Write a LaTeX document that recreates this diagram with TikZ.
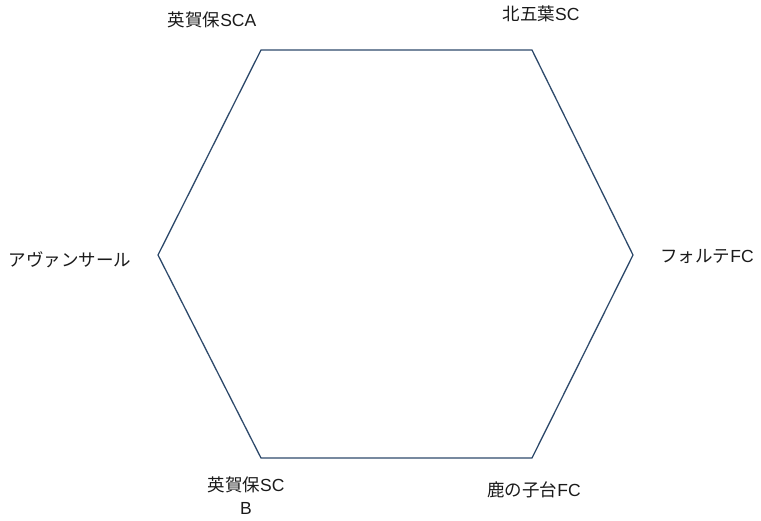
\documentclass[tikz,border=0pt]{standalone}
\usepackage{fontspec}
\setmainfont{Liberation Sans}
\newfontfamily\jp{Noto Sans CJK JP}
\definecolor{edge}{HTML}{2E4A6B}
\definecolor{txt}{HTML}{1A1A1A}
\begin{document}
\begin{tikzpicture}[x=1pt,y=-1pt,
  lbl/.style={text=txt,font=\fontsize{17.5}{23}\selectfont,inner sep=0pt,align=center},
  hex/.style={draw=edge,line width=1.3pt,line join=miter}]
\useasboundingbox (0,0) rectangle (761,520);
\coordinate (v1) at (261,50);
\coordinate (v2) at (532,50);
\coordinate (v3) at (633,255);
\coordinate (v4) at (532,458);
\coordinate (v5) at (261,458);
\coordinate (v6) at (158,255);
\draw[hex] (v1) -- (v2) -- (v3) -- (v4) -- (v5) -- (v6) -- cycle;
\node[lbl] (a) at (212,20) {{\jp 英賀保}SCA};
\node[lbl] (b) at (541,14) {{\jp 北五葉}SC};
\node[lbl] (c) at (707,256) {{\jp フォルテ}FC};
\node[lbl] (d) at (534,490) {{\jp 鹿の子台}FC};
\node[lbl] (e) at (246,496) {{\jp 英賀保}SC\\B};
\node[lbl] (f) at (70,260) {{\jp アヴァンサール}};
\end{tikzpicture}
\end{document}
